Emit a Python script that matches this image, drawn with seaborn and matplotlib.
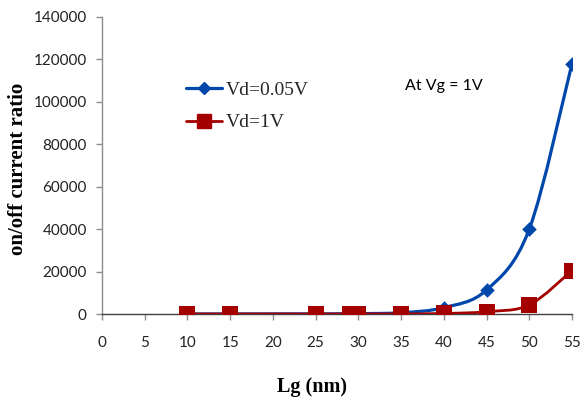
import numpy as np
import matplotlib
matplotlib.use("Agg")
import matplotlib.pyplot as plt
import seaborn as sns
from matplotlib.path import Path
from matplotlib.patches import PathPatch
from matplotlib.lines import Line2D

# gate length (nm) and on/off current ratio
lg = [10, 15, 25, 29, 30, 35, 40, 45, 50, 55]
ratio_vd005 = [5, 10, 50, 100, 150, 600, 3000, 11300, 40000, 118000]
ratio_vd1 = [2, 5, 10, 20, 25, 60, 250, 1100, 4300, 20500]

x_ticks = list(range(0, 60, 5))
y_ticks = list(range(0, 160000, 20000))

blue = "#0047AB"
red = "#A50000"


def smooth_path(xs, ys):
    # Excel style smoothed line: cubic bezier through every point
    pts = np.column_stack([xs, ys]).astype(float)
    n = len(pts)
    verts = [pts[0]]
    codes = [Path.MOVETO]
    for i in range(n - 1):
        p0 = pts[i - 1] if i > 0 else pts[i]
        p1 = pts[i]
        p2 = pts[i + 1]
        p3 = pts[i + 2] if i + 2 < n else pts[i + 1]
        c1 = p1 + (p2 - p0) / 6.0
        c2 = p2 - (p3 - p1) / 6.0
        verts += [c1, c2, p2]
        codes += [Path.CURVE4] * 3
    return Path(verts, codes)


sns.set_theme(style="white")
plt.rcParams['font.family'] = ['Lato', 'DejaVu Sans']

fig = plt.figure(figsize=(5.81, 4.01), dpi=100)
ax = fig.add_axes([102 / 581, 87 / 401, 470 / 581, 297 / 401])

# smoothed curves
ax.add_patch(PathPatch(smooth_path(lg, ratio_vd005), fill=False,
                       edgecolor=blue, lw=2.3, zorder=2, capstyle='round'))
sns.scatterplot(x=lg, y=ratio_vd005, marker='D', s=55, color=blue,
                edgecolor=blue, linewidth=0, ax=ax, zorder=3)
ax.add_patch(PathPatch(smooth_path(lg, ratio_vd1), fill=False,
                       edgecolor=red, lw=2.0, zorder=4, capstyle='round'))
sns.scatterplot(x=lg, y=ratio_vd1, marker='s', s=125, color=red,
                edgecolor=red, linewidth=0, ax=ax, zorder=5)

ax.set_xlim(0, 55)
ax.set_ylim(0, 140000)
ax.set_xticks(x_ticks)
ax.set_yticks(y_ticks)
ax.set_xticklabels([str(t) for t in x_ticks])
ax.set_yticklabels([str(t) for t in y_ticks])

for s in ['top', 'right']:
    ax.spines[s].set_visible(False)
ax.spines['left'].set_color('#8c8c8c')
ax.spines['left'].set_linewidth(1.0)
ax.spines['bottom'].set_color('#404040')
ax.spines['bottom'].set_linewidth(1.0)
ax.spines['left'].set_zorder(1)

ax.tick_params(axis='y', direction='out', length=4, width=1, color='#8c8c8c',
               pad=7, labelsize=11, labelcolor='#222222', left=True)
ax.tick_params(axis='x', direction='out', length=4, width=1, color='#8c8c8c',
               pad=12, labelsize=11, labelcolor='#222222', bottom=True)

ax.set_xlabel('Lg (nm)', family=['Liberation Serif'], fontweight='bold',
              fontsize=14.5, color='black')
ax.xaxis.set_label_coords(0.447, -0.245)
ax.xaxis.label.set_va('center')
ax.set_ylabel('on/off current ratio', family=['Liberation Serif'],
              fontweight='bold', fontsize=15, color='black')
ax.yaxis.set_label_coords(-0.178, 0.488)
ax.yaxis.label.set_va('center')

ax.text(35.5, 107500, 'At Vg = 1V', fontsize=11.5, color='black',
        ha='left', va='center')

handles = [
    Line2D([], [], color=blue, lw=2.3, marker='D', markersize=6.5),
    Line2D([], [], color=red, lw=2.0, marker='s', markersize=10),
]
leg = ax.legend(handles, ['Vd=0.05V', 'Vd=1V'], loc='upper left',
                bbox_to_anchor=(168 / 581, 1 - 64 / 401),
                bbox_transform=fig.transFigure, frameon=False,
                prop={'family': 'Liberation Serif', 'size': 14},
                handlelength=1.9, handletextpad=0.15, labelspacing=0.75)

fig.savefig('out.png', dpi=100, facecolor='white')
